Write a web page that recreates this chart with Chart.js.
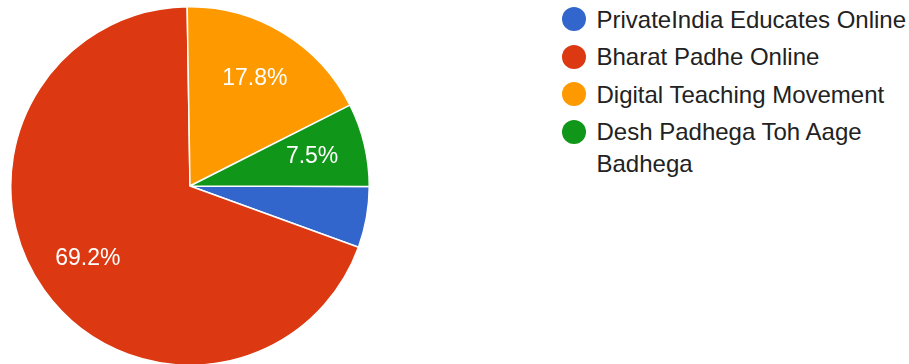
<!DOCTYPE html>
<html lang="en">
<head>
    <meta charset="UTF-8">
    <meta name="viewport" content="width=device-width, initial-scale=1.0">
    <title>Online Education Initiatives</title>
    <script src="https://cdn.jsdelivr.net/npm/chart.js"></script>
    <style>
        body {
            margin: 0;
            width: 909px;
            height: 364px;
            overflow: hidden;
            background: white;
            font-family: "Liberation Sans", Arial, sans-serif;
            position: relative;
        }
        #pieBox {
            position: absolute;
            left: 10px;
            top: 6px;
            width: 360px;
            height: 360px;
        }
        #legend {
            position: absolute;
            left: 562px;
            top: 3.5px;
            width: 347px;
        }
        .legend-item {
            display: flex;
            align-items: flex-start;
            margin-bottom: 5.5px;
        }
        .legend-dot {
            flex: 0 0 auto;
            width: 24px;
            height: 24px;
            border-radius: 50%;
            margin-top: 3.5px;
            margin-right: 10.5px;
        }
        .legend-text {
            font-size: 24px;
            line-height: 32px;
            color: #222222;
        }
    </style>
</head>
<body>
    <div id="pieBox">
        <canvas id="pieChart"></canvas>
    </div>
    <div id="legend"></div>

    <script>
        const categories = ['PrivateIndia Educates Online', 'Bharat Padhe Online', 'Digital Teaching Movement', 'Desh Padhega Toh Aage Badhega'];
        const shares = [5.5, 69.2, 17.8, 7.5];
        const colors = ['#3366cc', '#dc3912', '#ff9900', '#109618'];

        // build the legend on the right
        const legend = document.getElementById('legend');
        categories.forEach((name, i) => {
            const item = document.createElement('div');
            item.className = 'legend-item';
            item.innerHTML = '<span class="legend-dot" style="background:' + colors[i] + '"></span>' +
                '<span class="legend-text">' + name + '</span>';
            legend.appendChild(item);
        });

        // first slice starts where the green one ends, so orange sits near 12 o'clock
        // (the original is turned back by about a degree)
        const total = shares.reduce((a, b) => a + b, 0);
        const startDeg = (shares[2] + shares[3]) / total * 360 - 0.9;

        const sliceLabels = {
            id: 'sliceLabels',
            afterDatasetsDraw(chart) {
                const ctx = chart.ctx;
                const arcs = chart.getDatasetMeta(0).data;
                ctx.save();
                ctx.fillStyle = '#ffffff';
                ctx.font = '23px "Liberation Sans", Arial, sans-serif';
                ctx.textAlign = 'center';
                ctx.textBaseline = 'middle';
                arcs.forEach((arc, i) => {
                    const pct = shares[i] / total * 100;
                    if (pct < 7) return;
                    const mid = (arc.startAngle + arc.endAngle) / 2;
                    const r = arc.outerRadius * 0.7;
                    ctx.fillText(pct.toFixed(1) + '%', arc.x + Math.cos(mid) * r, arc.y + Math.sin(mid) * r);
                });
                ctx.restore();
            }
        };

        new Chart(document.getElementById('pieChart'), {
            type: 'pie',
            data: {
                labels: categories,
                datasets: [{
                    data: shares,
                    backgroundColor: colors,
                    borderColor: '#ffffff',
                    borderWidth: 1.5,
                    hoverOffset: 0
                }]
            },
            options: {
                responsive: true,
                maintainAspectRatio: false,
                animation: false,
                rotation: startDeg,
                layout: { padding: 0 },
                plugins: {
                    legend: { display: false },
                    tooltip: { enabled: false }
                }
            },
            plugins: [sliceLabels]
        });
    </script>
</body>
</html>
